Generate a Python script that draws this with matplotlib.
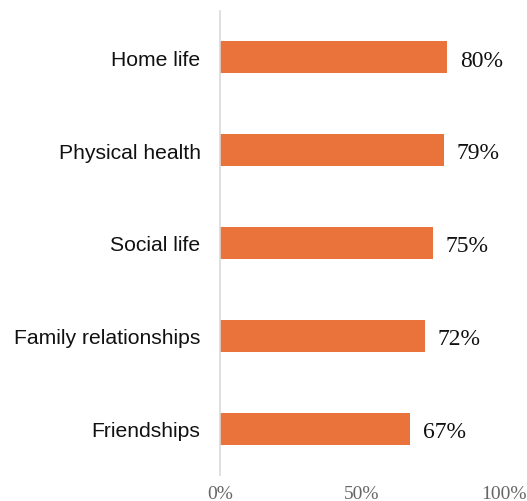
import matplotlib.pyplot as plt

areas = ["Home life", "Physical health", "Social life", "Family relationships", "Friendships"]
shares = [80, 79, 75, 72, 67]
ticks = [0, 50, 100]
tick_labels = ["0%", "50%", "100%"]

fig = plt.figure(figsize=(5.27, 5.02), dpi=100)
ax = fig.add_axes([0.4175, 0.052, 0.539, 0.924])

pos = list(range(len(areas)))
ax.barh(pos, shares, height=0.345, color="#E9733A")

for p, v in zip(pos, shares):
    ax.annotate(f"{v}%", (v, p), xytext=(9, -2), textcoords="offset points",
                va="center", ha="left", fontsize=17, family="Liberation Serif",
                color="#111111")

ax.set_xlim(0, 100)
ax.set_ylim(len(areas) - 0.5, -0.5)
ax.set_yticks(pos)
ax.set_yticklabels(areas, fontsize=15.2, family="Liberation Sans", color="#111111")
ax.set_xticks(ticks)
ax.set_xticklabels(tick_labels, fontsize=14, family="Liberation Serif", color="#666666")
ax.tick_params(axis="both", length=0)
ax.tick_params(axis="y", pad=14)
ax.tick_params(axis="x", pad=7)

for s in ["top", "right", "bottom"]:
    ax.spines[s].set_visible(False)
ax.spines["left"].set_color("#D9D9D9")
ax.spines["left"].set_linewidth(1.2)

fig.savefig("out.png", dpi=100)
